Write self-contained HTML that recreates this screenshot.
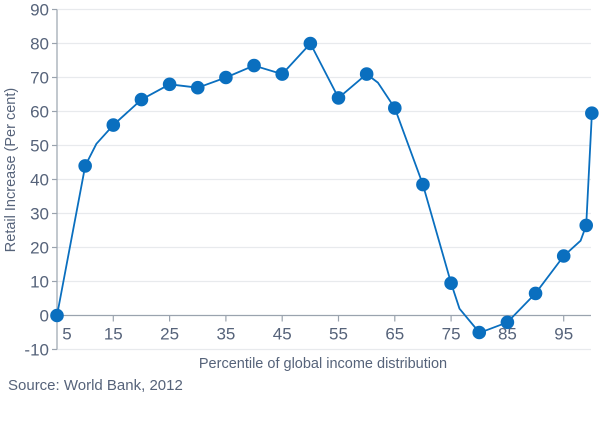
<!DOCTYPE html>
<html><head><meta charset="utf-8"><style>
html,body{margin:0;padding:0;background:#fff;width:600px;height:426px;overflow:hidden}
svg{display:block}
text{font-family:"Liberation Sans",sans-serif;fill:#56637a}
</style></head><body>
<svg id="chart" width="600" height="426" viewBox="0 0 600 426" xmlns="http://www.w3.org/2000/svg"></svg>
<script>
// Data
const xTicks = [5, 15, 25, 35, 45, 55, 65, 75, 85, 95];
const yTicks = [-10, 0, 10, 20, 30, 40, 50, 60, 70, 80, 90];
const markerPercentile = [5, 10, 15, 20, 25, 30, 35, 40, 45, 50, 55, 60, 65, 70, 75, 80, 85, 90, 95, 99, 100];
const markerValue = [0, 44, 56, 63.5, 68, 67, 70, 73.5, 71, 80, 64, 71, 61, 38.5, 9.5, -5, -2, 6.5, 17.5, 26.5, 59.5];
const linePercentile = [5, 10, 12, 15, 20, 25, 30, 35, 40, 45, 50, 55, 60, 62, 65, 70, 75, 76.5, 80, 81, 85, 90, 95, 98, 99, 100];
const lineValue = [0, 44, 50.5, 56, 63.5, 68, 67, 70, 73.5, 71, 80, 64, 71, 68.5, 61, 38.5, 9.5, 2, -5, -4.5, -2, 6.5, 17.5, 22, 26.5, 59.5];

const NS = "http://www.w3.org/2000/svg";
const svg = document.getElementById("chart");
const X0 = 57, XPER = 5.63, Y0 = 315.5, YPER = 3.4;
const xs = p => X0 + (p - 5) * XPER;
const ys = v => Y0 - v * YPER;
function mk(tag, attrs, parent) {
  const e = document.createElementNS(NS, tag);
  for (const k in attrs) e.setAttribute(k, attrs[k]);
  (parent || svg).appendChild(e);
  return e;
}
// grid
const grid = mk("g", {});


yTicks.forEach(v => {
  if (v === 0) return;
  const l = mk("line", {x1: X0, x2: 591, y1: ys(v), y2: ys(v), stroke: "#e8eaed", "stroke-width": 1.2}, grid);
  
  
});
// y axis
const yAxis = mk("line", {x1: X0, x2: X0, y1: ys(90), y2: ys(-10), stroke: "#9aa3ae", "stroke-width": 1.2});


yTicks.forEach(v => {
  const t = mk("line", {x1: X0 - 5, x2: X0, y1: ys(v), y2: ys(v), stroke: "#9aa3ae", "stroke-width": 1.2});
  
  
  const tx = mk("text", {x: X0 - 8, y: ys(v) + 6, "text-anchor": "end", "font-size": 17});
  tx.textContent = v;
  
  
});
// zero line (x axis)
const xAxis = mk("line", {x1: X0, x2: 591, y1: Y0, y2: Y0, stroke: "#9aa3ae", "stroke-width": 1.2});


xTicks.forEach(p => {
  const t = mk("line", {x1: xs(p), x2: xs(p), y1: Y0, y2: Y0 + 6, stroke: "#9aa3ae", "stroke-width": 1.2});
  
  
  const tx = mk("text", {x: p === 5 ? xs(p) + 10 : xs(p), y: Y0 + 24, "text-anchor": "middle", "font-size": 17});
  tx.textContent = p;
  
  
});
// line
const pts = linePercentile.map((p, i) => xs(p).toFixed(1) + "," + ys(lineValue[i]).toFixed(1)).join(" ");
const pl = mk("polyline", {points: pts, fill: "none", stroke: "#0a6fbf", "stroke-width": 1.8, "stroke-linejoin": "round"});


markerPercentile.forEach((p, i) => {
  const c = mk("circle", {cx: xs(p), cy: ys(markerValue[i]), r: 6.8, fill: "#0a6fbf"});
  
  
});
// titles
const yt = mk("text", {x: 0, y: 0, transform: "translate(15,170) rotate(-90)", "text-anchor": "middle", "font-size": 14.5});
yt.textContent = "Retail Increase (Per cent)";


const xt = mk("text", {x: 323, y: 368, "text-anchor": "middle", "font-size": 14.5});
xt.textContent = "Percentile of global income distribution";


const src = mk("text", {x: 8, y: 390, "font-size": 15});
src.textContent = "Source: World Bank, 2012";


</script>
</body></html>
